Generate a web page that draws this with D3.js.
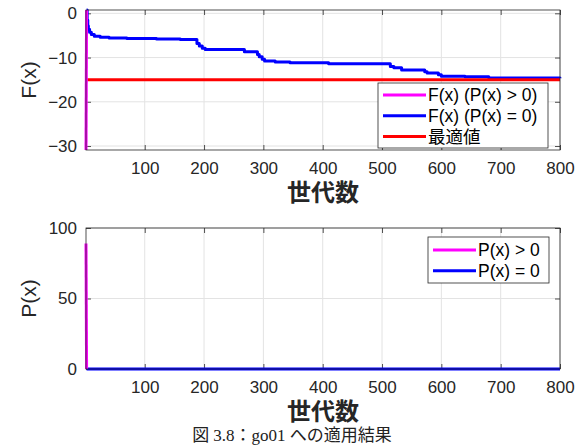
<!DOCTYPE html>
<html><head><meta charset="utf-8">
<script src="https://cdn.jsdelivr.net/npm/d3@7"></script>
<style>body{margin:0;background:#fff}svg{display:block}</style>
</head><body>
<script>
// ---- data ----
const xTicks = [100,200,300,400,500,600,700,800];
const fTicks = [0,-10,-20,-30];
const pTicks = [0,50,100];
const genRange = [1,800];
const fDomain = [-30.9, 0.75];
const pDomain = [0, 100];
// F(x) while infeasible (P(x) > 0)
const infGen = [1, 2];
const infF = [-30.9, 0.75];
const infP = [89, 0];
// F(x) while feasible (P(x) = 0)
const feasGen = [2,3,4,5,7,10,15,25,40,70,120,160,188,192,197,202,268,290,293,298,302,320,345,410,514,520,533,572,576,595,600,640,680,800];
const feasF  = [0.75,-1.5,-2.8,-3.6,-4.3,-4.8,-5.2,-5.4,-5.6,-5.7,-5.8,-5.9,-6.8,-7.4,-7.9,-8.2,-8.7,-9.3,-9.8,-10.4,-10.8,-11.0,-11.15,-11.4,-12.0,-12.3,-12.8,-13.2,-13.5,-13.9,-14.2,-14.35,-14.6,-14.7];
const feasPGen = [2, 800];
const feasP = [0, 0];
const optimum = -15;
const legendTop = ["F(x) (P(x) > 0)", "F(x) (P(x) = 0)", "最適値"];
const legendBottom = ["P(x) > 0", "P(x) = 0"];
const xLabel = "世代数";
const caption = "図 3.8：go01 への適用結果";

const MAG = "#ff00ff", BLUE = "#0000ff", RED = "#ff0000", AX = "#262626", GRID = "#e3e3e3";
const FONT = "'Liberation Sans','Noto Sans CJK JP',sans-serif";

const svg = d3.select("body").append("svg").attr("width",585).attr("height",445);
svg.append("rect").attr("width",585).attr("height",445).attr("fill","#fff");

function panel(cfg){
  const g = svg.append("g");
  const x = d3.scaleLinear().domain(genRange).range([86,560]);
  const y = d3.scaleLinear().domain(cfg.yDomain).range([cfg.y1, cfg.y0]);
  // grid
  g.selectAll(".gx").data(xTicks).join("line")
    .attr("x1",d=>x(d)).attr("x2",d=>x(d)).attr("y1",cfg.y0).attr("y2",cfg.y1)
    .attr("stroke",GRID).attr("stroke-width",1);
  g.selectAll(".gy").data(cfg.yTicks).join("line")
    .attr("x1",86).attr("x2",560).attr("y1",d=>y(d)).attr("y2",d=>y(d))
    .attr("stroke",GRID).attr("stroke-width",1);
  // axes with labels
  const xa = g.append("g").attr("transform",`translate(0,${cfg.y1})`)
    .call(d3.axisBottom(x).tickValues(xTicks).tickSize(-5).tickPadding(12));
  const ya = g.append("g").attr("transform",`translate(86,0)`)
    .call(d3.axisLeft(y).tickValues(cfg.yTicks).tickSize(-5).tickPadding(9));
  const xt = g.append("g").attr("transform",`translate(0,${cfg.y0})`)
    .call(d3.axisTop(x).tickValues(xTicks).tickSize(-5).tickFormat(""));
  const yr = g.append("g").attr("transform",`translate(560,0)`)
    .call(d3.axisRight(y).tickValues(cfg.yTicks).tickSize(-5).tickFormat(""));
  [xa,ya,xt,yr].forEach(a=>{
    a.select(".domain").remove();
    a.selectAll("line").attr("stroke",AX).attr("stroke-width",0.8);
    a.selectAll("text").attr("fill",AX).attr("font-family",FONT).attr("font-size",17);
  });
  // series
  cfg.series.forEach(s=>{
    const pts = s.gen.map((gv,i)=>[gv,s.val[i]]);
    g.append("path").datum(pts)
      .attr("d", d3.line().x(d=>x(d[0])).y(d=>y(d[1])).curve(s.curve||d3.curveLinear))
      .attr("fill","none").attr("stroke",s.color).attr("stroke-width",3)
      .attr("stroke-linejoin","round");
  });
  // box
  g.append("rect").attr("x",86).attr("y",cfg.y0).attr("width",474).attr("height",cfg.y1-cfg.y0)
    .attr("fill","none").attr("stroke",AX).attr("stroke-width",0.8);
  // y label
  g.append("text").attr("transform",`translate(36,${(cfg.y0+cfg.y1)/2}) rotate(-90)`)
    .attr("text-anchor","middle").attr("font-family",FONT).attr("font-size",21).attr("fill",AX)
    .text(cfg.yLabel);
  // x label
  g.append("text").attr("x",323).attr("y",cfg.y1+51).attr("text-anchor","middle")
    .attr("font-family",FONT).attr("font-size",24).attr("font-weight","bold").attr("fill",AX).text(xLabel);
  // legend
  const L = cfg.legend;
  const lg = g.append("g");
  lg.append("rect").attr("x",L.x).attr("y",L.y).attr("width",L.w).attr("height",L.h)
    .attr("fill","#fff").attr("stroke",AX).attr("stroke-width",0.8);
  L.items.forEach((t,i)=>{
    const cy = L.y + L.pad + i*L.row;
    lg.append("line").attr("x1",L.x+5).attr("x2",L.x+48).attr("y1",cy).attr("y2",cy)
      .attr("stroke",L.colors[i]).attr("stroke-width",3);
    lg.append("text").attr("x",L.x+50).attr("y",cy).attr("dy","0.36em")
      .attr("font-family",FONT).attr("font-size",17.5).attr("fill","#000").text(t);
  });
}

panel({
  y0:10, y1:150, yDomain:fDomain, yTicks:fTicks, yLabel:"F(x)",
  series:[
    {gen:feasGen, val:feasF, color:BLUE, curve:d3.curveStepAfter},
    {gen:genRange, val:[optimum,optimum], color:RED},
    {gen:infGen, val:infF, color:MAG}
  ],
  legend:{x:378,y:83,w:170,h:65,pad:12,row:20.7,items:legendTop,colors:[MAG,BLUE,RED]}
});
panel({
  y0:228, y1:369, yDomain:pDomain, yTicks:pTicks, yLabel:"P(x)",
  series:[
    {gen:feasPGen, val:feasP, color:BLUE},
    {gen:infGen, val:infP, color:MAG}
  ],
  legend:{x:428,y:237,w:121,h:46,pad:13,row:20.7,items:legendBottom,colors:[MAG,BLUE]}
});

svg.append("text").attr("x",292).attr("y",441).attr("text-anchor","middle")
  .attr("font-family","'Liberation Serif','DejaVu Serif','Noto Sans CJK JP',serif").attr("font-size",17)
  .attr("fill","#222").text(caption);
</script>
</body></html>
